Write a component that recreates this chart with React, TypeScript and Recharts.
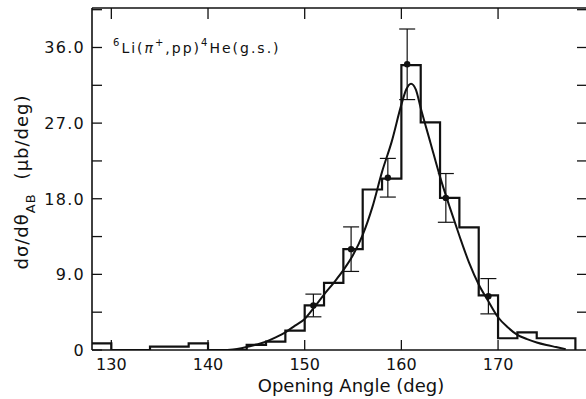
import React from "react";
import { ComposedChart, Line, Scatter, ErrorBar, XAxis, YAxis } from "recharts";

const FONT = "'DejaVu Sans', sans-serif";
const INK = "#111";

// histogram: left bin edges (2 deg wide), last point closes the final bin
const binEdge = [128, 130, 132, 134, 136, 138, 140, 142, 144, 146, 148, 150, 152, 154, 156, 158, 160, 162, 164, 166, 168, 170, 172, 174, 176, 178];
const binValue = [0.8, 0, 0, 0.4, 0.4, 0.8, 0, 0, 0.6, 1.0, 2.3, 5.3, 8.0, 12.0, 19.1, 20.4, 33.9, 27.1, 18.1, 14.6, 6.5, 1.4, 2.1, 1.4, 1.4, 0];

// calculated distribution
const curveAngle = [142, 143, 144, 145, 146, 147, 148, 149, 150, 151, 152, 153, 154, 155, 156, 157, 158, 159, 160, 160.5, 161, 161.5, 162, 163, 164, 165, 166, 167, 168, 169, 170, 171, 172, 173, 174, 175, 176, 177];
const curveValue = [0, 0.12, 0.35, 0.65, 1.0, 1.5, 2.1, 2.9, 3.7, 5.1, 6.6, 8.0, 9.5, 11.3, 13.7, 17.0, 21.2, 24.8, 29.2, 31.0, 31.7, 31.0, 28.8, 24.7, 20.6, 17.0, 13.6, 10.4, 7.8, 5.8, 3.9, 2.7, 1.8, 1.3, 0.9, 0.6, 0.35, 0.1];

// measured points with statistical errors
const pointAngle = [150.9, 154.8, 158.6, 160.6, 164.6, 169.0];
const pointValue = [5.3, 12.0, 20.5, 34.0, 18.1, 6.4];
const pointError = [1.35, 2.65, 2.3, 4.2, 2.9, 2.1];

const xTicks = [130, 140, 150, 160, 170];
const yTicks = [0, 4.5, 9, 13.5, 18, 22.5, 27, 31.5, 36, 40.5];
const X_DOMAIN: [number, number] = [128, 179.2];
const Y_DOMAIN: [number, number] = [0, 40.7];

const histData = binEdge.map((x, i) => ({ x, y: binValue[i] }));
const curveData = curveAngle.map((x, i) => ({ x, y: curveValue[i] }));
const pointData = pointAngle.map((x, i) => ({ x, y: pointValue[i], err: pointError[i] }));

const TICK_LEN = 10;

const BottomTick = ({ x, y, payload }: any) => (
  <g>
    <line x1={x} x2={x} y1={y} y2={y - TICK_LEN} stroke={INK} strokeWidth={1.3} />
    <text x={x} y={y + 20} textAnchor="middle" fontSize={16} fontFamily={FONT} fill={INK}>
      {payload.value}
    </text>
  </g>
);

const TopTick = ({ x, y }: any) => (
  <line x1={x} x2={x} y1={y} y2={y + TICK_LEN + 1} stroke={INK} strokeWidth={1.3} />
);

const LeftTick = ({ x, y, payload }: any) => {
  const v = payload.value;
  const major = v % 9 === 0 && v <= 36;
  return (
    <g>
      <line x1={x} x2={x + TICK_LEN} y1={y} y2={y} stroke={INK} strokeWidth={1.3} />
      {major && (
        <text x={x - 7} y={y + 6} textAnchor="end" fontSize={16} letterSpacing={1.3} fontFamily={FONT} fill={INK}>
          {v === 0 ? "0" : v.toFixed(1)}
        </text>
      )}
    </g>
  );
};

const RightTick = ({ x, y }: any) => (
  <line x1={x} x2={x - TICK_LEN} y1={y} y2={y} stroke={INK} strokeWidth={1.3} />
);

const YTitle = () => (
  <text transform="rotate(-90)" x={-182} y={28} textAnchor="middle" fontSize={18} letterSpacing={1} fontFamily={FONT} fill={INK}>
    dσ/dθ
    <tspan fontSize={13} dy={7}>AB</tspan>
    <tspan dy={-7} dx={14}>(μb/deg)</tspan>
  </text>
);

const XTitle = () => (
  <text x={351} y={392} textAnchor="middle" fontSize={18} fontFamily={FONT} fill={INK}>
    Opening Angle (deg)
  </text>
);

const Reaction = () => (
  <text x={113} y={53} fontSize={14} letterSpacing={2} fontFamily={FONT} fill={INK}>
    <tspan fontSize={10} dy={-7}>6</tspan>
    <tspan dy={7}>Li(</tspan>
    <tspan fontStyle="italic">π</tspan>
    <tspan fontSize={10} dy={-7}>+</tspan>
    <tspan dy={7}>,pp)</tspan>
    <tspan fontSize={10} dy={-7}>4</tspan>
    <tspan dy={7}>He(g.s.)</tspan>
  </text>
);

const Dot = ({ cx, cy }: any) => <circle cx={cx} cy={cy} r={3.2} fill={INK} />;

export default function App() {
  return (
    <div style={{ position: "absolute", left: 0, top: 0, width: 586, height: 399, overflow: "hidden", background: "#fff" }}>
      <ComposedChart width={600} height={399} margin={{ top: 0, right: 0, bottom: 0, left: 0 }}>
        <XAxis
          dataKey="x"
          type="number"
          domain={X_DOMAIN}
          allowDataOverflow
          ticks={xTicks}
          interval={0}
          height={49}
          tickSize={0}
          tickMargin={0}
          tickLine={false}
          tick={<BottomTick />}
          axisLine={{ stroke: INK, strokeWidth: 1.6 }}
          label={<XTitle />}
        />
        <XAxis
          xAxisId="top"
          orientation="top"
          dataKey="x"
          type="number"
          domain={X_DOMAIN}
          allowDataOverflow
          ticks={xTicks}
          interval={0}
          height={8}
          tickSize={0}
          tickMargin={0}
          tickLine={false}
          tick={<TopTick />}
          axisLine={{ stroke: INK, strokeWidth: 1.6 }}
          label={<Reaction />}
        />
        <YAxis
          type="number"
          domain={Y_DOMAIN}
          allowDataOverflow
          ticks={yTicks}
          interval={0}
          width={92}
          tickSize={0}
          tickMargin={0}
          tickLine={false}
          tick={<LeftTick />}
          axisLine={{ stroke: INK, strokeWidth: 1.6 }}
          label={<YTitle />}
        />
        <YAxis
          yAxisId="right"
          orientation="right"
          type="number"
          domain={Y_DOMAIN}
          allowDataOverflow
          ticks={yTicks.filter((t) => t > 0)}
          interval={0}
          width={13}
          tickSize={0}
          tickMargin={0}
          tickLine={false}
          tick={<RightTick />}
          axisLine={{ stroke: INK, strokeWidth: 1.6 }}
        />
        <Line
          data={histData}
          dataKey="y"
          type="stepAfter"
          stroke={INK}
          strokeWidth={2.2}
          dot={false}
          isAnimationActive={false}
        />
        <Line
          data={curveData}
          dataKey="y"
          type="monotone"
          stroke={INK}
          strokeWidth={2}
          dot={false}
          isAnimationActive={false}
        />
        <Scatter data={pointData} dataKey="y" shape={<Dot />} isAnimationActive={false}>
          <ErrorBar dataKey="err" direction="y" width={8} stroke={INK} strokeWidth={1.2} isAnimationActive={false} />
        </Scatter>
      </ComposedChart>
    </div>
  );
}
